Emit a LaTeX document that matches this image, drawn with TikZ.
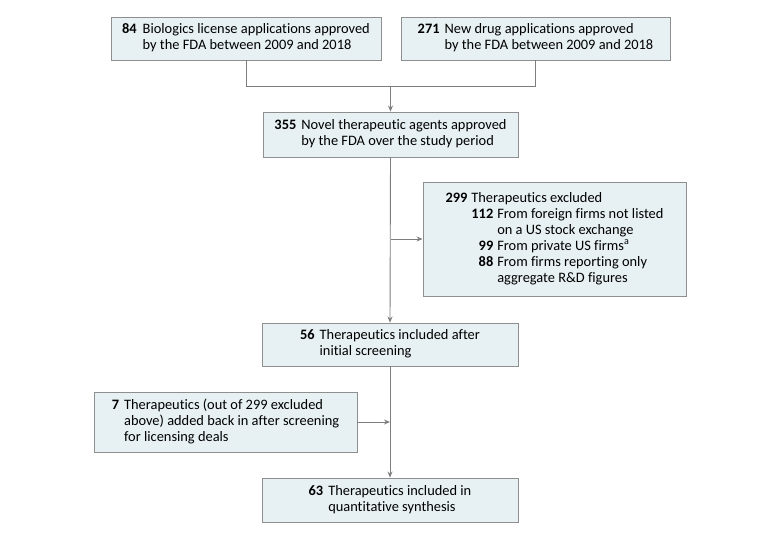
\documentclass[tikz,border=0pt]{standalone}
\usepackage{fontspec}
\setmainfont[Ligatures=NoCommon]{Carlito}
\usepackage{tikz}
\usetikzlibrary{arrows.meta}
\definecolor{boxfill}{HTML}{E7F0F3}
\definecolor{boxline}{HTML}{8F8F8F}
\definecolor{linkline}{HTML}{7D7D7D}

\begin{document}
\begin{tikzpicture}[x=1pt, y=-1pt,
		flowbox/.style={draw=boxline, fill=boxfill, line width=0.9pt, inner sep=0pt, align=left,
			font=\fontsize{14.4}{16}\selectfont},
		link/.style={draw=linkline, line width=0.9pt},
		arr/.style={link, -{Stealth[length=6pt, width=5pt]}}]
			\useasboundingbox (0,0) rectangle (780,535);
			% boxes
			\node[flowbox, minimum width=270pt, minimum height=43pt] (bla) at (246,38.5)
				{\begin{tabular}{@{}l@{\hspace{6pt}}l@{}}\textbf{84} & Biologics license applications approved\\ & by the FDA between 2009 and 2018\end{tabular}};
			\node[flowbox, minimum width=269pt, minimum height=43pt] (nda) at (535.5,38.5)
				{\begin{tabular}{@{}l@{\hspace{5pt}}l@{}}\textbf{271} & New drug applications approved\\ & by the FDA between 2009 and 2018\end{tabular}};
			\node[flowbox, minimum width=255pt, minimum height=45pt] (novel) at (390.5,134.5)
				{\begin{tabular}{@{}l@{\hspace{5pt}}l@{}}\textbf{355} & Novel therapeutic agents approved\\ & by the FDA over the study period\end{tabular}};
			\node[flowbox, minimum width=263pt, minimum height=114pt] (excl) at (554.5,239)
				{\begin{tabular}{@{}l@{\hspace{4pt}}l@{}}\textbf{299} & Therapeutics excluded\\
					& \begin{tabular}[t]{@{}r@{\hspace{4pt}}l@{}}
						\textbf{112} & From foreign firms not listed\\
						& on a US stock exchange\\
						\textbf{99} & From private US firms\textsuperscript{a}\\
						\textbf{88} & From firms reporting only\\
						& aggregate R\&D figures
					\end{tabular}\end{tabular}};
			\node[flowbox, minimum width=256pt, minimum height=43pt] (screen) at (390,344.5)
				{\begin{tabular}{@{}l@{\hspace{5pt}}l@{}}\textbf{56} & Therapeutics included after\\ & initial screening\end{tabular}};
			\node[flowbox, minimum width=263pt, minimum height=60pt] (added) at (225.5,422)
				{\begin{tabular}{@{}l@{\hspace{5pt}}l@{}}\textbf{7} & Therapeutics (out of 299 excluded\\ & above) added back in after screening\\ & for licensing deals\end{tabular}};
			\node[flowbox, minimum width=256pt, minimum height=44pt] (final) at (390,500)
				{\begin{tabular}{@{}l@{\hspace{5pt}}l@{}}\textbf{63} & Therapeutics included in\\ & quantitative synthesis\end{tabular}};

			% connectors
			\coordinate (join) at (novel.north |- 0,86);
			\coordinate (exclsplit) at (novel.south |- excl.west);
			\coordinate (addjoin) at (screen.south |- added.east);
			\draw[link] (bla.south) |- (nda.south |- join) -- (nda.south);
			\draw[arr] (join) -- (novel.north);
			\draw[arr] (novel.south) -- (screen.north);
			\draw[arr] (exclsplit) -- (excl.west);
			\draw[arr] (screen.south) -- (final.north);
			\draw[arr] (added.east) -- (addjoin);
		\end{tikzpicture}
\end{document}
